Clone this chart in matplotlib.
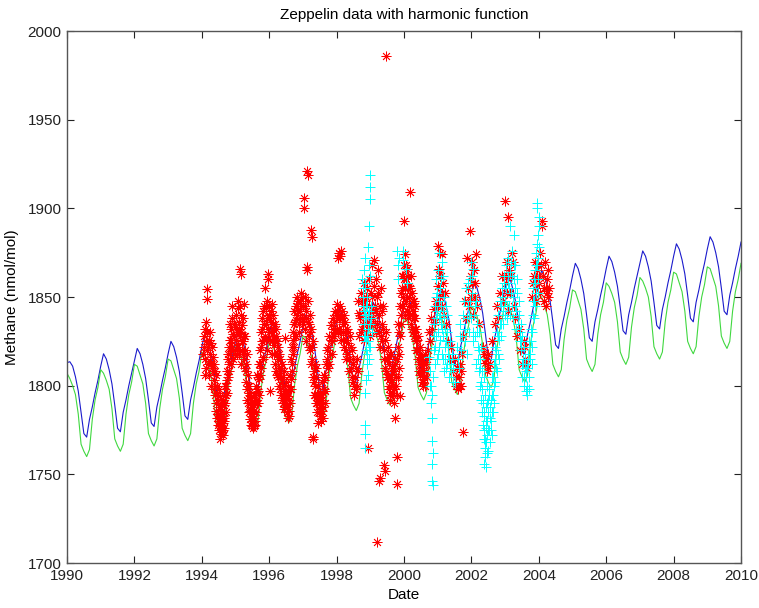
import numpy as np
import matplotlib
matplotlib.use("Agg")
import matplotlib.pyplot as plt

plt.rcParams['font.family'] = ['Liberation Sans', 'DejaVu Sans']

# harmonic fit, monthly values from Jan 1990 to Jan 2010 (one row per year)
blue_fit = [
    1813, 1813.5, 1811, 1805, 1797, 1785, 1773, 1771, 1781, 1788, 1796, 1803,
    1811, 1818, 1815, 1809, 1801, 1789, 1776, 1774, 1785, 1792, 1800, 1807,
    1814, 1821, 1818, 1812, 1804, 1792, 1779, 1777, 1788, 1795, 1803, 1810,
    1818, 1825, 1822, 1816, 1808, 1796, 1783, 1781, 1792, 1799, 1807, 1814,
    1822, 1829, 1826, 1820, 1812, 1800, 1787, 1785, 1796, 1803, 1811, 1818,
    1825, 1832, 1829, 1823, 1815, 1803, 1790, 1788, 1799, 1806, 1814, 1821,
    1829, 1836, 1833, 1827, 1819, 1807, 1794, 1792, 1803, 1810, 1818, 1825,
    1833, 1840, 1837, 1831, 1823, 1811, 1798, 1796, 1807, 1814, 1822, 1829,
    1836, 1843, 1840, 1834, 1826, 1814, 1801, 1799, 1810, 1817, 1825, 1832,
    1840, 1847, 1844, 1838, 1830, 1818, 1805, 1803, 1814, 1821, 1829, 1836,
    1844, 1851, 1848, 1842, 1834, 1822, 1809, 1807, 1818, 1825, 1833, 1840,
    1847, 1854, 1851, 1845, 1837, 1825, 1812, 1810, 1821, 1828, 1836, 1843,
    1851, 1858, 1855, 1849, 1841, 1829, 1816, 1814, 1825, 1832, 1840, 1847,
    1855, 1862, 1859, 1853, 1845, 1833, 1820, 1818, 1829, 1836, 1844, 1851,
    1858, 1865, 1862, 1856, 1848, 1836, 1823, 1821, 1832, 1839, 1847, 1854,
    1862, 1869, 1866, 1860, 1852, 1840, 1827, 1825, 1836, 1843, 1851, 1858,
    1866, 1873, 1870, 1864, 1856, 1844, 1831, 1829, 1840, 1847, 1855, 1862,
    1869, 1876, 1873, 1867, 1859, 1847, 1834, 1832, 1843, 1850, 1858, 1865,
    1873, 1880, 1877, 1871, 1863, 1851, 1838, 1836, 1847, 1854, 1862, 1869,
    1877, 1884, 1881, 1875, 1867, 1855, 1842, 1840, 1851, 1858, 1866, 1873,
    1881,
]

green_fit = [
    1807, 1804, 1800, 1795, 1784, 1767, 1763, 1760, 1764, 1781, 1792, 1799,
    1809, 1807, 1803, 1798, 1787, 1770, 1766, 1763, 1767, 1784, 1795, 1802,
    1812, 1811, 1806, 1801, 1790, 1773, 1769, 1766, 1770, 1787, 1798, 1805,
    1815, 1814, 1809, 1804, 1793, 1776, 1772, 1769, 1773, 1790, 1801, 1808,
    1819, 1817, 1813, 1808, 1797, 1780, 1776, 1773, 1777, 1794, 1805, 1812,
    1822, 1820, 1816, 1811, 1800, 1783, 1779, 1776, 1780, 1797, 1808, 1815,
    1825, 1824, 1819, 1814, 1803, 1786, 1782, 1779, 1783, 1800, 1811, 1818,
    1828, 1827, 1822, 1817, 1806, 1789, 1785, 1782, 1786, 1803, 1814, 1821,
    1832, 1830, 1826, 1821, 1810, 1793, 1789, 1786, 1790, 1807, 1818, 1825,
    1835, 1833, 1829, 1824, 1813, 1796, 1792, 1789, 1793, 1810, 1821, 1828,
    1838, 1837, 1832, 1827, 1816, 1799, 1795, 1792, 1796, 1813, 1824, 1831,
    1841, 1840, 1835, 1830, 1819, 1802, 1798, 1795, 1799, 1816, 1827, 1834,
    1845, 1843, 1839, 1834, 1823, 1806, 1802, 1799, 1803, 1820, 1831, 1838,
    1848, 1846, 1842, 1837, 1826, 1809, 1805, 1802, 1806, 1823, 1834, 1841,
    1851, 1850, 1845, 1840, 1829, 1812, 1808, 1805, 1809, 1826, 1837, 1844,
    1854, 1853, 1848, 1843, 1832, 1815, 1811, 1808, 1812, 1829, 1840, 1847,
    1858, 1856, 1852, 1847, 1836, 1819, 1815, 1812, 1816, 1833, 1844, 1851,
    1861, 1859, 1855, 1850, 1839, 1822, 1818, 1815, 1819, 1836, 1847, 1854,
    1864, 1863, 1858, 1853, 1842, 1825, 1821, 1818, 1822, 1839, 1850, 1857,
    1867, 1866, 1861, 1856, 1845, 1828, 1824, 1821, 1825, 1842, 1853, 1860,
    1869,
]

# red asterisks: (date, methane)
red_obs = [
    (1994.05, 1822), (1994.07, 1828), (1994.08, 1815), (1994.10, 1832), (1994.12, 1825),
    (1994.12, 1810), (1994.14, 1854.5), (1994.15, 1849), (1994.15, 1830), (1994.16, 1820),
    (1994.18, 1812), (1994.20, 1826), (1994.22, 1806), (1994.24, 1818), (1994.25, 1830),
    (1994.27, 1812), (1994.28, 1800), (1994.30, 1822), (1994.32, 1808),
    (1994.03, 1818), (1994.09, 1806), (1994.13, 1836), (1994.19, 1822), (1994.23, 1814),
    (1994.26, 1824), (1994.29, 1810), (1994.33, 1816), (1994.36, 1798), (1994.39, 1808),
    (1994.35, 1803), (1994.37, 1812), (1994.38, 1795), (1994.40, 1800), (1994.41, 1790),
    (1994.42, 1806), (1994.43, 1786), (1994.45, 1796), (1994.46, 1782), (1994.47, 1792),
    (1994.48, 1778), (1994.50, 1788), (1994.51, 1780), (1994.52, 1775), (1994.53, 1794),
    (1994.54, 1784), (1994.55, 1777), (1994.56, 1790), (1994.57, 1773), (1994.58, 1781),
    (1994.59, 1776), (1994.60, 1786), (1994.61, 1774), (1994.62, 1779), (1994.63, 1772),
    (1994.64, 1783), (1994.65, 1776), (1994.66, 1789), (1994.67, 1780), (1994.68, 1795),
    (1994.44, 1800), (1994.49, 1784), (1994.52, 1798), (1994.55, 1770), (1994.58, 1788),
    (1994.60, 1779), (1994.62, 1792), (1994.64, 1775), (1994.66, 1782), (1994.69, 1800),
    (1994.70, 1790), (1994.72, 1800), (1994.74, 1808), (1994.75, 1796), (1994.77, 1815),
    (1994.79, 1805), (1994.80, 1822), (1994.82, 1812), (1994.84, 1826), (1994.85, 1818),
    (1994.87, 1832), (1994.89, 1845), (1994.90, 1822), (1994.92, 1829), (1994.94, 1815),
    (1994.96, 1835), (1994.71, 1785), (1994.73, 1795), (1994.76, 1803), (1994.78, 1818),
    (1994.81, 1808), (1994.83, 1835), (1994.86, 1812), (1994.88, 1826), (1994.91, 1838),
    (1994.93, 1820), (1994.95, 1828), (1994.98, 1818),
    (1995.00, 1826), (1995.02, 1840), (1995.03, 1818), (1995.05, 1830), (1995.07, 1844),
    (1995.08, 1822), (1995.10, 1836), (1995.12, 1828), (1995.13, 1866), (1995.15, 1863),
    (1995.15, 1812), (1995.17, 1840), (1995.18, 1825), (1995.20, 1834), (1995.22, 1818),
    (1995.24, 1846), (1995.25, 1828), (1995.27, 1810), (1995.28, 1820), (1995.30, 1802),
    (1995.01, 1833), (1995.04, 1822), (1995.06, 1848), (1995.09, 1832), (1995.11, 1818),
    (1995.14, 1845), (1995.16, 1830), (1995.19, 1820), (1995.21, 1838), (1995.23, 1825),
    (1995.26, 1815), (1995.29, 1828), (1995.31, 1808), (1995.33, 1818), (1995.35, 1792),
    (1995.32, 1812), (1995.34, 1798), (1995.36, 1806), (1995.38, 1790), (1995.40, 1800),
    (1995.41, 1785), (1995.43, 1795), (1995.44, 1781), (1995.45, 1788), (1995.46, 1778),
    (1995.47, 1792), (1995.48, 1783), (1995.50, 1777), (1995.51, 1786), (1995.52, 1780),
    (1995.53, 1776), (1995.54, 1790), (1995.55, 1782), (1995.57, 1778), (1995.58, 1795),
    (1995.60, 1785), (1995.62, 1800), (1995.63, 1790), (1995.65, 1806),
    (1995.37, 1800), (1995.39, 1796), (1995.42, 1790), (1995.44, 1786), (1995.46, 1794),
    (1995.49, 1780), (1995.50, 1791), (1995.52, 1785), (1995.55, 1777), (1995.56, 1786),
    (1995.59, 1780), (1995.61, 1792), (1995.64, 1798), (1995.66, 1790),
    (1995.67, 1797), (1995.69, 1812), (1995.71, 1804), (1995.73, 1820), (1995.75, 1830),
    (1995.76, 1810), (1995.78, 1838), (1995.80, 1825), (1995.82, 1842), (1995.83, 1816),
    (1995.85, 1835), (1995.87, 1828), (1995.88, 1855), (1995.90, 1844), (1995.92, 1820),
    (1995.94, 1838), (1995.96, 1863), (1995.97, 1860), (1995.98, 1830),
    (1995.68, 1805), (1995.70, 1795), (1995.72, 1812), (1995.74, 1806), (1995.77, 1822),
    (1995.79, 1832), (1995.81, 1815), (1995.84, 1826), (1995.86, 1845), (1995.89, 1835),
    (1995.91, 1826), (1995.93, 1848), (1995.95, 1832), (1995.99, 1840),
    (1996.00, 1845), (1996.02, 1826), (1996.03, 1797), (1996.05, 1836), (1996.07, 1846),
    (1996.08, 1818), (1996.10, 1832), (1996.12, 1840), (1996.14, 1823), (1996.16, 1835),
    (1996.18, 1812), (1996.20, 1828), (1996.22, 1818), (1996.24, 1806),
    (1996.01, 1838), (1996.04, 1830), (1996.06, 1842), (1996.09, 1825), (1996.11, 1835),
    (1996.13, 1828), (1996.15, 1818), (1996.17, 1826), (1996.19, 1832), (1996.21, 1808),
    (1996.23, 1825), (1996.25, 1815), (1996.27, 1805), (1996.29, 1818), (1996.31, 1808),
    (1996.26, 1822), (1996.28, 1810), (1996.30, 1800), (1996.32, 1815), (1996.34, 1805),
    (1996.36, 1795), (1996.38, 1812), (1996.40, 1800), (1996.42, 1790), (1996.44, 1808),
    (1996.46, 1827), (1996.47, 1797), (1996.48, 1788), (1996.50, 1802), (1996.52, 1785),
    (1996.53, 1794), (1996.55, 1782), (1996.56, 1800), (1996.58, 1786), (1996.60, 1792),
    (1996.62, 1806), (1996.64, 1798),
    (1996.33, 1798), (1996.35, 1810), (1996.37, 1802), (1996.39, 1792), (1996.41, 1805),
    (1996.43, 1796), (1996.45, 1787), (1996.49, 1795), (1996.51, 1790), (1996.54, 1788),
    (1996.57, 1794), (1996.59, 1783), (1996.61, 1798), (1996.63, 1790), (1996.65, 1804),
    (1996.66, 1815), (1996.68, 1808), (1996.70, 1826), (1996.72, 1818), (1996.74, 1835),
    (1996.76, 1828), (1996.78, 1845), (1996.80, 1837), (1996.82, 1850), (1996.85, 1842),
    (1996.87, 1830), (1996.90, 1848), (1996.92, 1838), (1996.95, 1852),
    (1996.67, 1822), (1996.69, 1812), (1996.71, 1830), (1996.73, 1822), (1996.75, 1842),
    (1996.77, 1836), (1996.79, 1828), (1996.81, 1845), (1996.83, 1840), (1996.86, 1848),
    (1996.88, 1835), (1996.91, 1842), (1996.94, 1845), (1996.97, 1838), (1996.99, 1850),
    (1997.00, 1845), (1997.02, 1838), (1997.03, 1906), (1997.04, 1900), (1997.05, 1850),
    (1997.07, 1832), (1997.09, 1842), (1997.11, 1867), (1997.12, 1865), (1997.13, 1921),
    (1997.15, 1919), (1997.14, 1836), (1997.16, 1848), (1997.18, 1828), (1997.20, 1840),
    (1997.22, 1820), (1997.24, 1888), (1997.26, 1884), (1997.25, 1832), (1997.28, 1815),
    (1997.30, 1825),
    (1997.01, 1835), (1997.06, 1845), (1997.08, 1825), (1997.10, 1838), (1997.17, 1835),
    (1997.19, 1822), (1997.21, 1830), (1997.23, 1812), (1997.27, 1822), (1997.29, 1805),
    (1997.32, 1808), (1997.33, 1795), (1997.35, 1812), (1997.36, 1800), (1997.38, 1790),
    (1997.40, 1805), (1997.41, 1795), (1997.43, 1785), (1997.44, 1800), (1997.30, 1771),
    (1997.31, 1770), (1997.46, 1779),
    (1997.34, 1802), (1997.37, 1795), (1997.39, 1810), (1997.42, 1790), (1997.45, 1795),
    (1997.47, 1785), (1997.49, 1795), (1997.51, 1788), (1997.53, 1780), (1997.55, 1792),
    (1997.57, 1786), (1997.59, 1796), (1997.61, 1788), (1997.63, 1803), (1997.65, 1797),
    (1997.48, 1790), (1997.50, 1783), (1997.52, 1796), (1997.54, 1786), (1997.56, 1802),
    (1997.58, 1792), (1997.60, 1782), (1997.62, 1798), (1997.64, 1806), (1997.66, 1790),
    (1997.68, 1812), (1997.70, 1820), (1997.73, 1810), (1997.76, 1828), (1997.80, 1818),
    (1997.83, 1834), (1997.86, 1825), (1997.90, 1838), (1997.93, 1828), (1997.96, 1842),
    (1998.00, 1832),
    (1997.67, 1805), (1997.71, 1815), (1997.74, 1822), (1997.78, 1812), (1997.82, 1826),
    (1997.85, 1818), (1997.88, 1832), (1997.92, 1836), (1997.95, 1830), (1997.98, 1840),
    (1998.02, 1846), (1998.04, 1872), (1998.06, 1875), (1998.08, 1838), (1998.10, 1873),
    (1998.12, 1830), (1998.14, 1876), (1998.15, 1842), (1998.18, 1835), (1998.20, 1826),
    (1998.22, 1840), (1998.25, 1830), (1998.28, 1820),
    (1998.01, 1838), (1998.03, 1830), (1998.05, 1842), (1998.07, 1832), (1998.09, 1845),
    (1998.11, 1838), (1998.13, 1826), (1998.16, 1838), (1998.19, 1830), (1998.21, 1822),
    (1998.24, 1836), (1998.27, 1826), (1998.29, 1815),
    (1998.30, 1832), (1998.33, 1824), (1998.36, 1815), (1998.40, 1828), (1998.43, 1810),
    (1998.46, 1820), (1998.48, 1802), (1998.50, 1812), (1998.52, 1795), (1998.55, 1805),
    (1998.58, 1798), (1998.60, 1815), (1998.62, 1808), (1998.64, 1848), (1998.65, 1841),
    (1998.32, 1818), (1998.35, 1830), (1998.38, 1808), (1998.42, 1822), (1998.45, 1805),
    (1998.49, 1815), (1998.53, 1800), (1998.57, 1810), (1998.61, 1800),
    (1998.67, 1828), (1998.70, 1838), (1998.72, 1852), (1998.74, 1832), (1998.77, 1845),
    (1998.80, 1858), (1998.82, 1826), (1998.85, 1840), (1998.88, 1850), (1998.90, 1835),
    (1998.93, 1765), (1998.95, 1860), (1998.97, 1845), (1999.00, 1828), (1999.02, 1852),
    (1999.05, 1868), (1999.07, 1838), (1999.10, 1856), (1999.12, 1871), (1999.14, 1845),
    (1999.17, 1830), (1999.19, 1712), (1999.20, 1850), (1999.22, 1865), (1999.25, 1840),
    (1999.27, 1746), (1999.28, 1822), (1999.30, 1748), (1999.32, 1855), (1999.35, 1835),
    (1999.38, 1845), (1999.40, 1820), (1999.42, 1755), (1999.44, 1752), (1999.47, 1986),
    (1998.68, 1840), (1998.71, 1830), (1998.75, 1848), (1998.78, 1835), (1998.83, 1848),
    (1998.87, 1830), (1998.91, 1855), (1998.99, 1840), (1999.03, 1835), (1999.06, 1850),
    (1999.09, 1842), (1999.13, 1835), (1999.16, 1860), (1999.18, 1842), (1999.21, 1835),
    (1999.24, 1852), (1999.26, 1830), (1999.29, 1845), (1999.31, 1828), (1999.34, 1842),
    (1999.36, 1825), (1999.39, 1832), (1999.41, 1815), (1999.43, 1826), (1999.45, 1810),
    (1999.47, 1830), (1999.49, 1815), (1999.50, 1805), (1999.52, 1822), (1999.54, 1798),
    (1999.56, 1812), (1999.58, 1792), (1999.60, 1806), (1999.62, 1818), (1999.64, 1796),
    (1999.66, 1810), (1999.68, 1800), (1999.70, 1790), (1999.72, 1815), (1999.73, 1782),
    (1999.75, 1805), (1999.78, 1744.5), (1999.80, 1760), (1999.80, 1795), (1999.82, 1822),
    (1999.84, 1810), (1999.86, 1830), (1999.88, 1794), (1999.90, 1840),
    (1999.48, 1808), (1999.51, 1815), (1999.53, 1805), (1999.55, 1800), (1999.57, 1818),
    (1999.59, 1795), (1999.61, 1802), (1999.63, 1810), (1999.65, 1803), (1999.67, 1795),
    (1999.69, 1808), (1999.71, 1798), (1999.74, 1812), (1999.76, 1800), (1999.79, 1815),
    (1999.81, 1805), (1999.83, 1835), (1999.85, 1818), (1999.87, 1845), (1999.89, 1828),
    (1999.91, 1835),
    (1999.92, 1852), (1999.94, 1862), (1999.96, 1845), (1999.99, 1893), (2000.00, 1868),
    (2000.02, 1855), (2000.03, 1874), (2000.04, 1840), (2000.06, 1860), (2000.08, 1850),
    (2000.10, 1866), (2000.12, 1838), (2000.14, 1856), (2000.16, 1845), (2000.18, 1909),
    (2000.20, 1862), (2000.22, 1835), (2000.24, 1852), (2000.26, 1842), (2000.28, 1830),
    (2000.30, 1848), (2000.32, 1838), (2000.35, 1825),
    (1999.93, 1845), (1999.95, 1855), (1999.97, 1862), (1999.98, 1850), (2000.01, 1860),
    (2000.05, 1848), (2000.07, 1868), (2000.09, 1842), (2000.11, 1855), (2000.13, 1862),
    (2000.15, 1850), (2000.17, 1840), (2000.19, 1855), (2000.21, 1845), (2000.23, 1840),
    (2000.25, 1832), (2000.27, 1848), (2000.29, 1838), (2000.31, 1828), (2000.33, 1845),
    (2000.37, 1832), (2000.40, 1820), (2000.42, 1828), (2000.44, 1812), (2000.46, 1822),
    (2000.48, 1806), (2000.50, 1816), (2000.52, 1802), (2000.54, 1810), (2000.56, 1800),
    (2000.58, 1812), (2000.60, 1805), (2000.63, 1818), (2000.65, 1808),
    (2000.34, 1832), (2000.36, 1820), (2000.38, 1826), (2000.41, 1815), (2000.43, 1820),
    (2000.45, 1808), (2000.47, 1816), (2000.49, 1812), (2000.51, 1808), (2000.53, 1815),
    (2000.55, 1805), (2000.57, 1802), (2000.59, 1808), (2000.62, 1800), (2000.64, 1812),
    (2000.67, 1815), (2000.68, 1805),
    (2000.70, 1820), (2000.73, 1830), (2000.76, 1825), (2000.80, 1838), (2000.84, 1832),
    (2000.88, 1843), (2000.92, 1836), (2000.96, 1848),
    (2001.00, 1856), (2001.02, 1879), (2001.04, 1866), (2001.06, 1875), (2001.08, 1850),
    (2001.10, 1862), (2001.12, 1874), (2001.14, 1845), (2001.17, 1858), (2001.20, 1840),
    (2001.23, 1852), (2001.26, 1835), (2001.01, 1845), (2001.07, 1862), (2001.13, 1852),
    (2001.30, 1825), (2001.35, 1815), (2001.40, 1822), (2001.45, 1808), (2001.50, 1815),
    (2001.53, 1800), (2001.56, 1810), (2001.60, 1798), (2001.63, 1805), (2001.66, 1812),
    (2001.70, 1800), (2001.76, 1774), (2001.55, 1805), (2001.65, 1800), (2001.68, 1808),
    (2001.72, 1818),
    (2001.75, 1828), (2001.80, 1848), (2001.84, 1838), (2001.87, 1872), (2001.90, 1855),
    (2001.93, 1845), (2001.96, 1887), (2001.98, 1862), (2002.00, 1850), (2002.03, 1870),
    (2002.06, 1840), (2002.10, 1858), (2002.14, 1874), (2002.18, 1845), (2002.22, 1835),
    (2002.02, 1858), (2002.08, 1865), (2002.12, 1850),
    (2002.35, 1822), (2002.40, 1813), (2002.45, 1808), (2002.50, 1818), (2002.55, 1812),
    (2002.60, 1825), (2002.38, 1818), (2002.42, 1815), (2002.48, 1810),
    (2002.70, 1835), (2002.75, 1845), (2002.80, 1838), (2002.85, 1852), (2002.90, 1862),
    (2002.95, 1848), (2003.00, 1904), (2003.02, 1858), (2003.05, 1870), (2003.08, 1842),
    (2003.10, 1895), (2003.12, 1865), (2003.15, 1852), (2003.20, 1875), (2003.25, 1845),
    (2003.30, 1838), (2003.03, 1862), (2003.07, 1852), (2003.18, 1862), (2003.22, 1870),
    (2003.35, 1828), (2003.40, 1832), (2003.45, 1820), (2003.50, 1812), (2003.55, 1825),
    (2003.60, 1815), (2003.65, 1810), (2003.60, 1822), (2003.62, 1812),
    (2003.80, 1850), (2003.85, 1862), (2003.88, 1855), (2003.90, 1870), (2003.93, 1848),
    (2003.96, 1865), (2004.00, 1858), (2004.03, 1875), (2004.05, 1852), (2004.08, 1893),
    (2004.10, 1890), (2004.12, 1862), (2004.15, 1848), (2004.18, 1870), (2004.20, 1855),
    (2004.22, 1845), (2004.25, 1860), (2004.28, 1850), (2003.83, 1858), (2003.91, 1860),
    (2003.98, 1868), (2004.02, 1862), (2004.06, 1868), (2004.14, 1855), (2004.24, 1852),
    (2004.27, 1865), (2004.30, 1855),
]

# cyan crosses: (date, methane)
cyan_obs = [
    (1998.99, 1919), (1998.99, 1912), (1998.99, 1905), (1998.97, 1890),
    (1998.76, 1860), (1998.78, 1850), (1998.80, 1842), (1998.80, 1865), (1998.82, 1835),
    (1998.84, 1855), (1998.85, 1828), (1998.86, 1845), (1998.88, 1820), (1998.88, 1838),
    (1998.90, 1812), (1998.90, 1850), (1998.92, 1832), (1998.93, 1806), (1998.94, 1825),
    (1998.95, 1842), (1998.97, 1815), (1998.98, 1835), (1999.00, 1822), (1999.02, 1845),
    (1999.04, 1830), (1998.83, 1796), (1998.84, 1778), (1998.85, 1773), (1998.84, 1765),
    (1998.87, 1803), (1998.91, 1818), (1998.83, 1840), (1998.85, 1872), (1998.92, 1878),
    (1999.00, 1862), (1998.95, 1868),
    (1998.77, 1855), (1998.79, 1845), (1998.81, 1828), (1998.83, 1858), (1998.86, 1838),
    (1998.87, 1825), (1998.89, 1845), (1998.91, 1828), (1998.93, 1840), (1998.96, 1822),
    (1999.01, 1838),
    (1999.80, 1876), (1999.82, 1868), (1999.83, 1860), (1999.85, 1872),
    (1999.97, 1876), (1999.98, 1871), (2000.05, 1866), (2000.10, 1858),
    (2000.75, 1816), (2000.78, 1808), (2000.80, 1800), (2000.82, 1795), (2000.80, 1790),
    (2000.83, 1782), (2000.82, 1769), (2000.85, 1762), (2000.84, 1756), (2000.83, 1746),
    (2000.86, 1744), (2000.78, 1800), (2000.86, 1805),
    (2000.88, 1820), (2000.90, 1835), (2000.92, 1812), (2000.94, 1850), (2000.96, 1828),
    (2000.98, 1842), (2001.00, 1865), (2001.02, 1818), (2001.04, 1838), (2001.06, 1855),
    (2001.08, 1826), (2001.10, 1845), (2001.12, 1870), (2001.14, 1832), (2001.16, 1815),
    (2001.18, 1850), (2001.20, 1838), (2001.22, 1822), (2001.24, 1845), (2001.26, 1810),
    (2001.28, 1830), (2001.30, 1818), (2001.33, 1805), (2001.36, 1825), (2001.40, 1812),
    (2001.44, 1802), (2001.05, 1875), (2001.15, 1862), (2000.95, 1860),
    (2000.89, 1828), (2000.91, 1845), (2000.93, 1822), (2000.95, 1838), (2000.97, 1815),
    (2000.99, 1852), (2001.01, 1830), (2001.03, 1848), (2001.05, 1822), (2001.07, 1840),
    (2001.09, 1860), (2001.11, 1835), (2001.13, 1818), (2001.15, 1842), (2001.17, 1828),
    (2001.19, 1808), (2001.21, 1832), (2001.23, 1815), (2001.25, 1825), (2001.27, 1840),
    (2001.29, 1812), (2001.31, 1822), (2001.34, 1815), (2001.38, 1808), (2001.42, 1818),
    (2001.46, 1810), (2001.50, 1802),
    (2001.60, 1815), (2001.65, 1828), (2001.70, 1820), (2001.75, 1840), (2001.80, 1832),
    (2001.85, 1855), (2001.88, 1818), (2001.90, 1845), (2001.93, 1830), (2001.96, 1860),
    (2002.00, 1838), (2002.03, 1852), (2002.06, 1825), (2002.10, 1845), (2002.13, 1812),
    (2002.16, 1835), (2002.20, 1822), (2002.22, 1808), (2001.98, 1870), (2002.05, 1866),
    (2001.58, 1822), (2001.62, 1810), (2001.67, 1835), (2001.72, 1828), (2001.77, 1848),
    (2001.82, 1825), (2001.86, 1838), (2001.91, 1858), (2001.94, 1840), (2001.97, 1848),
    (2002.01, 1862), (2002.04, 1830), (2002.08, 1840), (2002.11, 1828), (2002.14, 1848),
    (2002.18, 1830), (2002.19, 1815),
    (2002.22, 1830), (2002.24, 1815), (2002.25, 1800), (2002.27, 1822), (2002.28, 1792),
    (2002.30, 1808), (2002.31, 1785), (2002.32, 1798), (2002.34, 1778), (2002.35, 1790),
    (2002.36, 1770), (2002.37, 1805), (2002.38, 1783), (2002.39, 1765), (2002.40, 1795),
    (2002.41, 1760), (2002.42, 1776), (2002.43, 1788), (2002.44, 1768), (2002.45, 1800),
    (2002.46, 1780), (2002.47, 1772), (2002.48, 1792), (2002.50, 1763), (2002.50, 1785),
    (2002.52, 1775), (2002.53, 1798), (2002.55, 1768), (2002.56, 1788), (2002.58, 1780),
    (2002.60, 1805), (2002.60, 1772), (2002.62, 1795), (2002.64, 1785), (2002.66, 1812),
    (2002.68, 1800), (2002.70, 1822), (2002.72, 1810), (2002.75, 1830), (2002.78, 1818),
    (2002.80, 1840), (2002.83, 1826), (2002.85, 1848), (2002.42, 1754), (2002.38, 1756),
    (2002.23, 1820), (2002.26, 1810), (2002.29, 1802), (2002.33, 1792), (2002.36, 1785),
    (2002.38, 1775), (2002.40, 1770), (2002.43, 1780), (2002.45, 1762), (2002.47, 1790),
    (2002.49, 1775), (2002.51, 1795), (2002.54, 1782), (2002.57, 1775), (2002.59, 1792),
    (2002.61, 1785), (2002.63, 1805), (2002.65, 1795), (2002.67, 1790), (2002.69, 1815),
    (2002.71, 1802), (2002.74, 1820), (2002.77, 1808), (2002.79, 1828), (2002.82, 1815),
    (2002.84, 1835),
    (2002.88, 1835), (2002.90, 1855), (2002.93, 1842), (2002.96, 1862), (2003.00, 1848),
    (2003.02, 1868), (2003.05, 1838), (2003.08, 1858), (2003.10, 1872), (2003.12, 1845),
    (2003.15, 1864), (2003.15, 1890), (2003.18, 1852), (2003.20, 1876), (2003.22, 1838),
    (2003.25, 1860), (2003.27, 1885), (2003.28, 1845), (2003.30, 1868), (2003.33, 1832),
    (2003.36, 1852), (2003.40, 1840), (2003.43, 1825),
    (2002.87, 1845), (2002.89, 1828), (2002.92, 1850), (2002.95, 1835), (2002.98, 1858),
    (2003.01, 1840), (2003.04, 1855), (2003.07, 1845), (2003.09, 1862), (2003.11, 1855),
    (2003.14, 1840), (2003.17, 1870), (2003.19, 1845), (2003.21, 1862), (2003.24, 1850),
    (2003.26, 1868), (2003.29, 1855), (2003.31, 1842), (2003.34, 1860), (2003.38, 1835),
    (2003.41, 1848), (2003.44, 1830),
    (2003.46, 1835), (2003.48, 1820), (2003.50, 1828), (2003.52, 1812), (2003.55, 1822),
    (2003.57, 1805), (2003.60, 1815), (2003.62, 1797), (2003.63, 1808), (2003.65, 1795),
    (2003.67, 1818), (2003.70, 1805), (2003.72, 1825), (2003.75, 1815), (2003.78, 1832),
    (2003.80, 1822),
    (2003.47, 1825), (2003.49, 1812), (2003.51, 1805), (2003.54, 1815), (2003.56, 1800),
    (2003.58, 1810), (2003.61, 1805), (2003.64, 1800), (2003.66, 1810), (2003.69, 1812),
    (2003.71, 1798), (2003.73, 1818), (2003.76, 1825), (2003.79, 1812),
    (2003.82, 1840), (2003.84, 1855), (2003.86, 1848), (2003.88, 1865), (2003.90, 1858),
    (2003.92, 1875), (2003.94, 1903), (2003.94, 1900), (2003.96, 1868), (2003.98, 1885),
    (2004.00, 1895), (2004.00, 1890), (2003.99, 1852), (2004.02, 1878),
    (2003.81, 1830), (2003.83, 1848), (2003.85, 1838), (2003.87, 1860), (2003.89, 1845),
    (2003.91, 1868), (2003.93, 1852), (2003.95, 1880), (2003.97, 1860), (2003.99, 1872),
]

red_date, red_ch4 = zip(*red_obs)
cyan_date, cyan_ch4 = zip(*cyan_obs)
line_dates = 1990 + np.arange(len(blue_fit)) / 12.0

fig = plt.figure(figsize=(7.59, 6.08), dpi=100)
ax = fig.add_axes([0.0883, 0.074, 0.8880, 0.875])

ax.plot(line_dates, blue_fit, color='#1a1acc', lw=0.8)
ax.plot(line_dates, green_fit, color='#40d840', lw=0.8)
ax.plot(red_date, red_ch4, ls='none', marker=(8, 2, 0), color='#ff0000',
        markersize=7, markeredgewidth=0.6)
ax.plot(cyan_date, cyan_ch4, ls='none', marker='+', color='#00ffff',
        markersize=7.5, markeredgewidth=0.7)

ax.set_xlim(1990, 2010)
ax.set_ylim(1700, 2000)
ax.set_xticks(np.arange(1990, 2011, 2))
ax.set_yticks(np.arange(1700, 2001, 50))
ax.tick_params(direction='in', top=True, right=True, length=5, width=0.8,
               labelsize=11, colors='#222222')
ax.tick_params(axis='x', pad=4)
ax.tick_params(axis='y', pad=4)
for s in ax.spines.values():
    s.set_color('#555555')
    s.set_linewidth(1)

ax.set_title("Zeppelin data with harmonic function", fontsize=11, pad=9)
ax.set_xlabel("Date", fontsize=11, labelpad=4)
ax.set_ylabel("Methane (nmol/mol)", fontsize=11, labelpad=6)

fig.savefig("out.png", dpi=100)
